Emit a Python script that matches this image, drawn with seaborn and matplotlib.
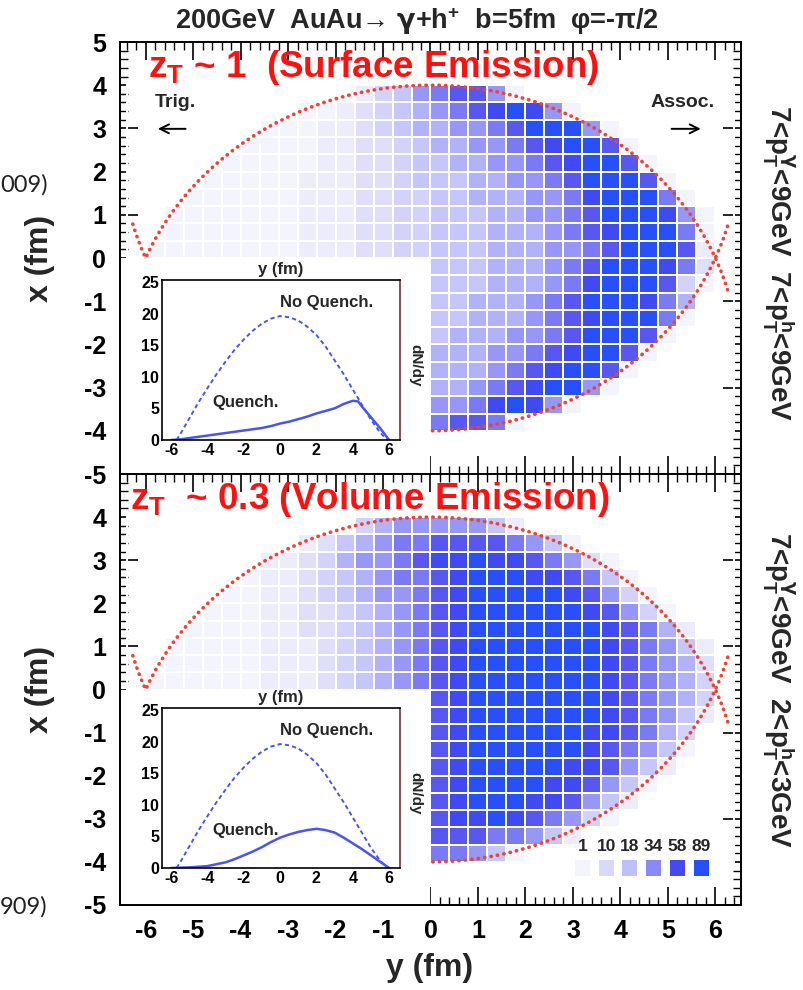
import numpy as np
import pandas as pd
import matplotlib
matplotlib.use("Agg")
import matplotlib.pyplot as plt
import seaborn as sns
from matplotlib.colors import LinearSegmentedColormap
from matplotlib.patches import Rectangle
from matplotlib.ticker import MultipleLocator, FuncFormatter

# ------------------------------------------------------------------
# Emission density per 0.4 fm x 0.4 fm cell.
# Rows run from x = +4 fm (first) to x = -4 fm (last), columns from
# y = -6.4 fm to +6.4 fm.  "." marks a cell that is not drawn.
# ------------------------------------------------------------------
LEVEL_VALUES = {"0": 1, "1": 4, "2": 8, "3": 12, "4": 16, "5": 22,
                "6": 30, "7": 40, "8": 52, "9": 66, "a": 89}

SURFACE_ROWS = [
    "............" + "134678860" + "...........",
    "........." + "00123456789a960" + "........",
    "......." + "00011234556678aaa60" + "......",
    "......" + "00001122345566789aa80" + ".....",
    "....." + "0000011223445566789aa80" + "....",
    "...." + "00000111223444556678aaa80" + "...",
    "..." + "0000001112233445556679aaa70" + "..",
    ".." + "00000001112233444556678aaa960" + ".",
    ".." + "000000011122334445556789aaa70" + ".",
    "." + "0000000011122334445556678aaa81" + ".",
    "................" + "444555678aaa972" + ".",
    "................" + "444555679aaa830" + ".",
    "................" + "44555678aaa975" + "..",
    "................" + "445556789aaa7" + "0" + "..",
    "................" + "45556678aaa8" + "0" + "...",
    "................" + "55566789aa8" + "0" + "....",
    "................" + "5556789aa8" + "0" + ".....",
    "................" + "556789aa6" + "0" + "......",
    "................" + "6679a96" + "0" + "........",
    "................" + "7887" + "0" + "...........",
]

VOLUME_ROWS = [
    "............" + "356666641" + "...........",
    "........." + "124567788887640" + "........",
    "......." + "11235667899a9987620" + "......",
    "......" + "011234567789aaa998740" + ".....",
    "....." + "0011234566789aaaaa98630" + "....",
    "...." + "00011223456789aaaaaa98630" + "...",
    "..." + "000011223456789aaaaaaa98751" + "..",
    ".." + "0000011123456789aaaaaaa987641" + ".",
    ".." + "0000011123456789aaaaaaa987652" + ".",
    "." + "00000011123456789aaaaaaa987653" + ".",
    "................" + "89aaaaaaa987653" + ".",
    "................" + "89aaaaaaa987641" + ".",
    "................" + "89aaaaaa998753" + "..",
    "................" + "89aaaaaa98764" + "0" + "..",
    "................" + "89aaaaa99864" + "1" + "...",
    "................" + "89aaaa99864" + "0" + "....",
    "................" + "89aaa99864" + "1" + ".....",
    "................" + "899a98763" + "0" + "......",
    "................" + "8887764" + "1" + "........",
    "................" + "7764" + "0" + "...........",
]

# colour key
LEGEND_VALUES = [1, 10, 18, 34, 58, 89]
LEGEND_COLORS = ["#f4f4fe", "#d9d9fc", "#bfbffa", "#8a8af6", "#4848f0", "#2850fa"]

# dN/dy insets
NOQ_Y = [-5.7, -5.5, -5, -4.5, -4, -3.5, -3, -2.5, -2, -1.5, -1, -0.5, 0,
         0.5, 1, 1.5, 2, 2.5, 3, 3.5, 4, 4.5, 5, 5.5, 5.9]
NOQ_DNDY = [0, 0.9, 3.4, 5.9, 8.2, 10.4, 12.4, 14.3, 15.9, 17.3, 18.4, 19.2, 19.6,
            19.4, 18.9, 17.9, 16.6, 14.8, 12.6, 10.4, 8.0, 5.6, 3.2, 1.2, 0]

QUENCH_SURF_Y = [-6, -5.5, -5, -4.5, -4, -3.5, -3, -2.5, -2, -1.5, -1, -0.5, 0,
                 0.5, 1, 1.5, 2, 2.5, 3, 3.5, 4, 4.3, 4.5, 5, 5.5, 6]
QUENCH_SURF_DNDY = [0, 0.1, 0.3, 0.5, 0.7, 0.9, 1.1, 1.3, 1.5, 1.7, 1.9, 2.2, 2.6,
                    2.9, 3.3, 3.7, 4.2, 4.6, 5.0, 5.7, 6.2, 6.1, 5.3, 3.6, 1.9, 0]

QUENCH_VOL_Y = [-6, -5, -4.5, -4, -3.5, -3, -2.5, -2, -1.5, -1, -0.5, 0,
                0.5, 1, 1.5, 2, 2.5, 3, 3.5, 4, 4.5, 5, 5.5, 6]
QUENCH_VOL_DNDY = [0, 0.1, 0.2, 0.3, 0.6, 0.9, 1.4, 2.0, 2.6, 3.3, 4.1, 4.8,
                   5.3, 5.7, 6.0, 6.2, 6.0, 5.6, 4.8, 3.9, 3.0, 2.0, 1.0, 0]

# overlap region of the two nuclei
R_NUCLEUS = 6.5
B_IMPACT = 5.0

# ------------------------------------------------------------------
CELL = 0.4
Y_EDGES = np.linspace(-6.4, 6.4, 33)
X_EDGES = np.linspace(-4.0, 4.0, 21)
ARC_RED = "#ec4334"
CURVE_BLUE = "#4a55ee"
CMAP = LinearSegmentedColormap.from_list(
    "emission",
    [((v - LEGEND_VALUES[0]) / (LEGEND_VALUES[-1] - LEGEND_VALUES[0]), c)
     for v, c in zip(LEGEND_VALUES, LEGEND_COLORS)])
VMIN, VMAX = LEGEND_VALUES[0], LEGEND_VALUES[-1]


def cell_table(rows):
    recs = []
    for r, row in enumerate(rows):
        assert len(row) == 32, (r, len(row))
        for c, ch in enumerate(row):
            if ch != ".":
                recs.append((Y_EDGES[c] + CELL / 2, X_EDGES[-1 - r] - CELL / 2,
                             LEVEL_VALUES[ch]))
    return pd.DataFrame(recs, columns=["y_fm", "x_fm", "dens"])


def arc_tables():
    ys = np.linspace(-6.27, 6.27, 400)
    root = np.sqrt(R_NUCLEUS ** 2 - ys ** 2)
    upper = pd.DataFrame({"y_fm": ys, "x_fm": -B_IMPACT / 2 + root})
    lower = pd.DataFrame({"y_fm": ys, "x_fm": B_IMPACT / 2 - root})
    return upper, lower


sns.set_theme(style="white")
plt.rcParams.update({
    "font.family": ["Liberation Sans", "DejaVu Sans"],
    "font.weight": "bold",
    "mathtext.default": "regular",
    "axes.unicode_minus": False,
    "axes.linewidth": 1.4,
    "axes.edgecolor": "black",
    "xtick.color": "black",
    "ytick.color": "black",
})

W, H = 804, 990
fig = plt.figure(figsize=(W / 100, H / 100), dpi=100)
fig.patch.set_facecolor("white")


def fig_rect(left, top, right, bottom):
    return [left / W, 1 - bottom / H, (right - left) / W, (bottom - top) / H]


ax_top = fig.add_axes(fig_rect(120, 42, 741, 474))
ax_bot = fig.add_axes(fig_rect(120, 474, 741, 905))


def draw_panel(ax, rows, hide_top_label):
    ax.set_facecolor("white")
    sns.histplot(data=cell_table(rows), x="y_fm", y="x_fm", weights="dens",
                 bins=[Y_EDGES, X_EDGES], cmap=CMAP, vmin=VMIN, vmax=VMAX,
                 edgecolor="white", linewidth=1.1, ax=ax, zorder=1)
    for arc in arc_tables():
        sns.lineplot(data=arc, x="y_fm", y="x_fm", sort=False, estimator=None,
                     color=ARC_RED, linewidth=2.6, linestyle=(0, (0.1, 1.7)),
                     dash_capstyle="round", ax=ax, zorder=1.2)
    # the dN/dy inset sits in the lower-left quadrant
    ax.add_patch(Rectangle((-7.0, -5.5), 7.0, 5.5, facecolor="white",
                           edgecolor="none", zorder=1.5))
    ax.set_xlim(-6.54, 6.54)
    ax.set_ylim(-5, 5)
    ax.set_xlabel("")
    ax.set_ylabel("")
    ax.grid(False)
    ax.xaxis.set_major_locator(MultipleLocator(1))
    ax.xaxis.set_minor_locator(MultipleLocator(0.2))
    ax.yaxis.set_major_locator(MultipleLocator(1))
    ax.yaxis.set_minor_locator(MultipleLocator(0.2))
    ax.tick_params(which="major", direction="in", length=13, width=1.2,
                   top=True, right=True, bottom=True, left=True,
                   labelsize=18, pad=10)
    ax.tick_params(which="minor", direction="in", length=6, width=1.0,
                   top=True, right=True, bottom=True, left=True)

    def ylab(v, _):
        iv = int(round(v))
        if hide_top_label and iv == 5:
            return ""
        return f"{iv}"
    ax.yaxis.set_major_formatter(FuncFormatter(ylab))
    for s in ax.spines.values():
        s.set_linewidth(1.4)
        s.set_color("black")


draw_panel(ax_top, SURFACE_ROWS, hide_top_label=False)
draw_panel(ax_bot, VOLUME_ROWS, hide_top_label=True)
ax_top.tick_params(axis="x", labelbottom=False)
ax_bot.xaxis.set_major_formatter(FuncFormatter(lambda v, _: f"{int(round(v))}"))

# panel annotations
ax_top.text(-5.96, 4.42, "z$_{T}$ ~ 1  (Surface Emission)", color="#ff1010",
            fontsize=26.5, ha="left", va="center", zorder=3)
ax_bot.text(-6.32, 4.41, "z$_{T}$  ~ 0.3 (Volume Emission)", color="#ff1010",
            fontsize=26.5, ha="left", va="center", zorder=3)

ax_top.text(-5.37, 3.61, "Trig.", fontsize=14, ha="center", va="center", zorder=3)
ax_top.text(5.31, 3.59, "Assoc.", fontsize=14, ha="center", va="center", zorder=3)
arrow_kw = dict(arrowstyle="->", lw=1.4, color="black", mutation_scale=16)
ax_top.annotate("", xy=(-5.80, 2.99), xytext=(-5.10, 2.99), arrowprops=arrow_kw)
ax_top.annotate("", xy=(5.75, 2.99), xytext=(5.02, 2.99), arrowprops=arrow_kw)

# colour key
key_y = [3.2, 3.7, 4.2, 4.7, 5.2, 5.7]
for v, yc in zip(LEGEND_VALUES, key_y):
    ax_bot.add_patch(Rectangle((yc - 0.16, -4.32), 0.32, 0.37,
                               facecolor=CMAP((v - VMIN) / (VMAX - VMIN)),
                               edgecolor="none", zorder=3))
    ax_bot.text(yc, -3.64, f"{v}", fontsize=12.5, ha="center", va="center", zorder=3)


def draw_inset(rect, q_y, q_dndy):
    axi = fig.add_axes(rect)
    axi.set_facecolor("white")
    sns.lineplot(x=NOQ_Y, y=NOQ_DNDY, sort=False, estimator=None, ax=axi,
                 color=CURVE_BLUE, linewidth=1.4, linestyle=(0, (2.2, 1.6)))
    sns.lineplot(x=q_y, y=q_dndy, sort=False, estimator=None, ax=axi,
                 color=CURVE_BLUE, linewidth=1.8)
    axi.set_xlim(-6.5, 6.6)
    axi.set_ylim(0, 25.3)
    axi.set_xlabel("")
    axi.set_ylabel("")
    axi.grid(False)
    axi.set_xticks(range(-6, 7, 2))
    axi.set_yticks(range(0, 26, 5))
    axi.xaxis.set_minor_locator(MultipleLocator(0.5))
    axi.yaxis.set_minor_locator(MultipleLocator(1))
    axi.tick_params(which="major", direction="in", length=5, width=1.0,
                    labelsize=11.5, pad=2, top=False, right=False)
    axi.tick_params(which="minor", direction="in", length=2.5, width=0.8,
                    top=False, right=False)
    for s in axi.spines.values():
        s.set_linewidth(1.2)
        s.set_color("black")
    axi.spines["right"].set_color("#7a3030")
    axi.text(0.0, 21.7, "No Quench.", fontsize=12, ha="left", va="center")
    axi.text(-3.75, 5.9, "Quench.", fontsize=12, ha="left", va="center")
    axi.text(0.5, 1.065, "y (fm)", transform=axi.transAxes, fontsize=12,
             ha="center", va="center")
    axi.text(1.065, 0.47, "dN/dy", transform=axi.transAxes, fontsize=11,
             rotation=270, ha="center", va="center")
    return axi


draw_inset(fig_rect(162, 280, 400, 440), QUENCH_SURF_Y, QUENCH_SURF_DNDY)
draw_inset(fig_rect(162, 708, 400, 868), QUENCH_VOL_Y, QUENCH_VOL_DNDY)

# figure-level labels
fig.text(417 / W, 1 - 21 / H,
         "200GeV  AuAu\u2192 $\\mathbf{\\gamma}$+h$^{+}$  b=5fm  \u03c6=-\u03c0/2",
         fontsize=19.5, ha="center", va="center")
fig.text(40 / W, 1 - 258 / H, "x (fm)", fontsize=23, rotation=90,
         ha="center", va="center")
fig.text(40 / W, 1 - 689 / H, "x (fm)", fontsize=23, rotation=90,
         ha="center", va="center")
fig.text(430 / W, 1 - 968 / H, "y (fm)", fontsize=23, ha="center", va="center")
fig.text(778 / W, 1 - 263 / H,
         "7<p$_{T}^{\\mathbf{\\gamma}}$<9GeV  7<p$_{T}^{h}$<9GeV",
         fontsize=20, rotation=270, ha="center", va="center")
fig.text(778 / W, 1 - 690 / H,
         "7<p$_{T}^{\\mathbf{\\gamma}}$<9GeV  2<p$_{T}^{h}$<3GeV",
         fontsize=20, rotation=270, ha="center", va="center")
fig.text(0.0, 1 - 185 / H, "009)", fontsize=17, fontweight="normal",
         family=["Lato", "DejaVu Sans"], color="#222222", ha="left", va="center")
fig.text(0.0, 1 - 907 / H, "909)", fontsize=17, fontweight="normal",
         family=["Lato", "DejaVu Sans"], color="#222222", ha="left", va="center")

fig.savefig("out.png", dpi=100, facecolor="white")
